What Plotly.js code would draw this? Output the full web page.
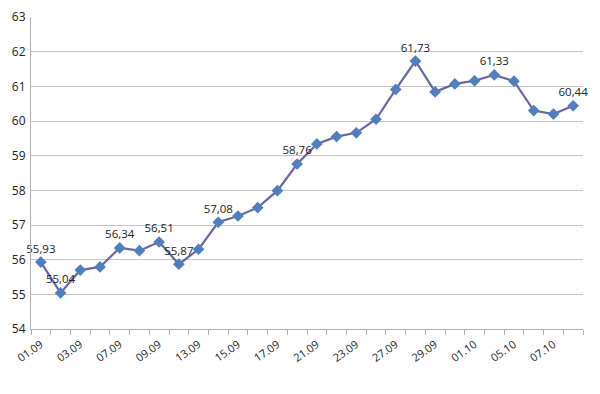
<!DOCTYPE html>
<html><head><meta charset="utf-8">
<script src="https://cdn.plot.ly/plotly-3.0.1.min.js"></script>
<style>html,body{margin:0;padding:0;background:#fff}#c{width:600px;height:394px}</style>
</head><body><div id="c"></div>
<script>
const dates = ["01.09","02.09","03.09","06.09","07.09","08.09","09.09","10.09","13.09","14.09","15.09","16.09","17.09","20.09","21.09","22.09","23.09","24.09","27.09","28.09","29.09","30.09","01.10","04.10","05.10","06.10","07.10","08.10"];
const values = [55.93,55.04,55.70,55.79,56.34,56.26,56.51,55.87,56.30,57.08,57.26,57.50,57.99,58.76,59.34,59.55,59.66,60.05,60.91,61.73,60.84,61.07,61.16,61.33,61.15,60.30,60.20,60.44];
const labeledIdx = [0,1,4,6,7,9,13,19,23,27];
const tickLabels = ["01.09","","03.09","","07.09","","09.09","","13.09","","15.09","","17.09","","21.09","","23.09","","27.09","","29.09","","01.10","","05.10","","07.10",""];

const text = values.map((v,i)=> labeledIdx.includes(i) ? v.toFixed(2).replace('.',',') : '');

const trace = {
  x: dates, y: values, type:'scatter', mode:'lines+markers+text',
  text: text, textposition:'top center',
  textfont:{family:'Open Sans, Liberation Sans, sans-serif', size:11.5, color:'#222'},
  line:{color:'#6a66a8', width:2.2},
  marker:{symbol:'diamond', size:9, color:'#4f7fc0', line:{color:'#4f7fc0', width:0}},
  cliponaxis:false, hoverinfo:'none'
};

const layout = {
  width:600, height:394,
  margin:{l:31, r:17, t:17, b:65},
  paper_bgcolor:'#fff', plot_bgcolor:'#fff',
  showlegend:false,
  font:{family:'Open Sans, Liberation Sans, sans-serif', size:11, color:'#222'},
  xaxis:{type:'category', tickmode:'array', tickvals:dates, ticktext:tickLabels,
    tickson:'boundaries', ticks:'outside', ticklen:5, tickcolor:'#b0b0b0',
    tickangle:-35, showline:true, linecolor:'#b0b0b0', linewidth:1,
    showgrid:false, zeroline:false, range:[-0.5, 27.5], ticklabelstandoff:4,
    tickfont:{size:11, color:'#222'}},
  yaxis:{range:[54,63], dtick:1, tick0:54, showgrid:true, gridcolor:'#c4c4c4', gridwidth:1,
    showline:true, linecolor:'#b0b0b0', linewidth:1, zeroline:false, ticks:'',
    ticklabelstandoff:2,
    tickfont:{size:12, color:'#222'}}
};
Plotly.newPlot('c',[trace],layout,{displayModeBar:false, staticPlot:true});
</script></body></html>
